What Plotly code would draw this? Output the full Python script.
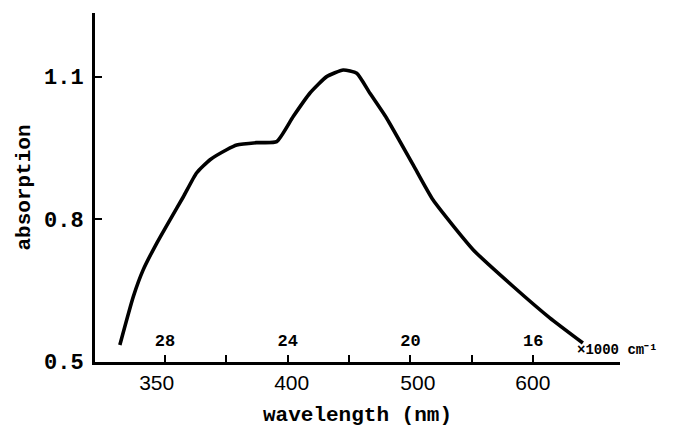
import plotly.graph_objects as go

# Absorption spectrum, x = wavenumber (x1000 cm^-1), y = absorption
wavenumber = [29.47, 29.03, 28.71, 28.27, 27.84, 27.40, 26.97, 26.53, 25.99, 25.66,
              25.01, 24.36, 23.82, 23.28, 22.73, 22.19, 21.75, 21.32, 20.78, 19.91,
              19.26, 17.95, 16.65, 15.46, 14.38]
absorption = [0.535, 0.637, 0.693, 0.749, 0.798, 0.847, 0.897, 0.925, 0.946, 0.956,
              0.961, 0.963, 1.016, 1.065, 1.100, 1.114, 1.107, 1.065, 1.013, 0.914,
              0.840, 0.735, 0.658, 0.592, 0.539]

wn_ticks = [28, 26, 24, 22, 20, 18, 16]
wn_ticktext = ["28", "", "24", "", "20", "", "16"]

wl_ticktext = ["350", "400", "500", "600"]
wl_tickpos = [28.27, 23.87, 19.76, 16.01]

y_ticks = [0.5, 0.8, 1.1]
y_ticktext = ["0.5", "0.8", "1.1"]

x_range = [30.28, 13.17]
y_range = [0.499, 1.234]

mono = "Liberation Mono"
sans = "Liberation Sans"

fig = go.Figure()
fig.add_trace(go.Scatter(
    x=wavenumber, y=absorption, mode="lines",
    line=dict(color="black", width=3.6, shape="spline", smoothing=0.5),
    xaxis="x2", yaxis="y", showlegend=False, hoverinfo="skip",
))
# invisible trace to activate the wavelength axis
fig.add_trace(go.Scatter(x=[wavenumber[0]], y=[absorption[0]], mode="markers",
                         marker=dict(opacity=0), xaxis="x", yaxis="y",
                         showlegend=False, hoverinfo="skip"))

fig.update_layout(
    width=691, height=448,
    margin=dict(l=95, r=71, t=13, b=86),
    paper_bgcolor="white", plot_bgcolor="white",
    xaxis=dict(
        range=x_range, tickmode="array", tickvals=wl_tickpos, ticktext=wl_ticktext,
        ticks="", showgrid=False, zeroline=False,
        showline=True, linecolor="black", linewidth=2.5,
        tickfont=dict(family=sans, size=21, color="black"),
        title=dict(text="wavelength (nm)",
                   font=dict(family=mono, size=21, color="black", weight="bold"),
                   standoff=14),
    ),
    xaxis2=dict(
        range=x_range, overlaying="x", anchor="free", position=0, side="top",
        tickmode="array", tickvals=wn_ticks, ticktext=wn_ticktext,
        ticks="outside", ticklen=7, tickwidth=2, tickcolor="black",
        ticklabelstandoff=2,
        showgrid=False, zeroline=False, showline=False,
        tickfont=dict(family=mono, size=17, color="black", weight="bold"),
    ),
    yaxis=dict(
        range=y_range, tickmode="array", tickvals=y_ticks, ticktext=y_ticktext,
        ticks="inside", ticklen=7, tickwidth=2, tickcolor="black",
        ticklabelstandoff=4,
        showgrid=False, zeroline=False, showline=True, linecolor="black", linewidth=3,
        tickfont=dict(family=mono, size=22, color="black", weight="bold"),
        title=dict(text="absorption",
                   font=dict(family=mono, size=21, color="black", weight="bold"),
                   standoff=8),
    ),
    annotations=[dict(
        text="×1000 cm⁻¹", xref="x2", yref="y", x=14.64, y=0.525,
        xanchor="left", yanchor="middle", showarrow=False,
        font=dict(family=mono, size=14, color="black", weight="bold"),
    )],
)

fig.write_html("out.html")
